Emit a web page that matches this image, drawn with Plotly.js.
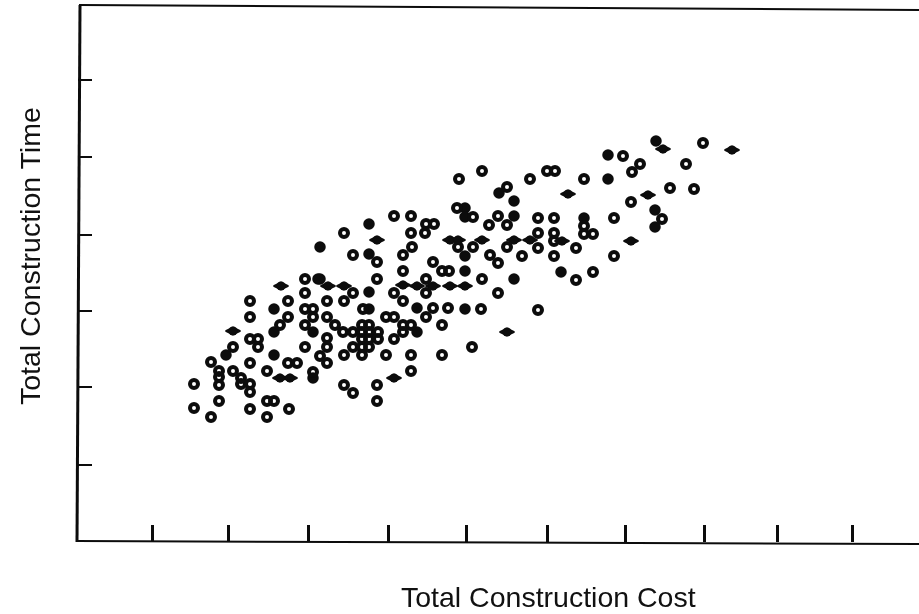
<!DOCTYPE html>
<html><head><meta charset="utf-8">
<script src="https://cdn.plot.ly/plotly-3.0.1.min.js"></script>
<style>html,body{margin:0;padding:0;background:#fff}#chart{filter:blur(0.55px)}</style></head>
<body><div id="chart" style="width:919px;height:614px"></div>
<script>
const xLabel = "Total Construction Cost";
const yLabel = "Total Construction Time";
const xTicks = [152,228,308,388,466,547,625,704,777,852];
const yTicks = [135,213,289,365,443,520];

const openCost = [194,305,305,250,288,305,313,250,288,313,280,305,250,258,258,233,305,320,211,250,288,297,219,233,267,313,219,241,219,241,250,250,219,267,274,194,250,289,211,267,
 394,411,426,434,344,411,425,412,353,403,377,433,403,442,449,377,426,426,353,394,344,327,403,363,433,448,426,386,394,327,335,403,411,442,362,369,343,353,362,369,378,403,327,394,362,369,378,327,353,362,369,344,362,386,411,442,327,411,344,377,353,377,
 482,459,530,547,555,584,507,457,473,538,554,498,489,507,584,538,554,584,593,554,458,473,507,538,576,490,522,554,498,593,482,576,498,481,538,472,
 703,623,640,632,686,670,694,631,614,662,614];
const openTime = [216,321,307,299,299,291,291,283,283,283,275,275,261,261,253,253,253,244,238,237,237,237,229,229,229,228,223,222,215,216,216,208,199,199,199,192,191,191,183,183,
 384,384,376,376,367,367,367,353,345,345,338,338,329,329,329,321,321,307,307,307,299,299,299,291,292,292,283,283,283,283,275,275,275,275,275,275,268,268,268,268,268,268,262,261,261,261,261,253,253,253,253,245,245,245,245,245,237,229,215,215,207,199,
 429,421,421,429,429,421,413,392,383,382,382,384,375,375,374,367,367,366,366,359,353,353,353,352,352,345,344,344,337,328,321,320,307,291,290,253,
 457,444,436,428,436,412,411,398,382,381,344];

const solidCost = [318,274,274,226,274,313,369,320,369,320,369,369,313,417,417,465,465,561,514,465,499,514,465,465,514,584,656,608,608,655,655];
const solidTime = [321,291,268,245,245,222,376,353,346,321,308,291,268,292,268,344,329,328,321,291,407,399,392,383,384,382,459,445,421,390,373];

const flatCost = [281,233,280,290,377,328,344,403,417,433,450,465,394,450,458,482,514,530,562,507,568,732,648,631,663];
const flatTime = [314,269,222,222,360,314,314,315,314,314,314,314,222,360,360,360,360,360,359,268,406,450,405,359,451];

const ink = "#0c0c0c";
const traces = [
 {x:flatCost,y:flatTime,mode:"markers",type:"scatter",hoverinfo:"x+y",
  marker:{symbol:"diamond-wide",size:10.5,color:ink,line:{color:ink,width:1.5}}},
 {x:flatCost,y:flatTime,mode:"markers",type:"scatter",hoverinfo:"x+y",
  marker:{symbol:"circle",size:9,color:ink,line:{width:0}}},
 {x:solidCost,y:solidTime,mode:"markers",type:"scatter",hoverinfo:"x+y",
  marker:{symbol:"circle",size:11.5,color:ink,line:{width:0}}},
 {x:openCost,y:openTime,mode:"markers",type:"scatter",hoverinfo:"x+y",
  marker:{symbol:"circle",size:8,color:"rgba(255,255,255,0)",line:{color:ink,width:4}}}
];
const W = 841, H = 535;
const axisLine = {color:ink,width:2};
const layout = {
 width:919,height:614,showlegend:false,paper_bgcolor:"#fff",plot_bgcolor:"#fff",
 margin:{l:78,r:0,t:7,b:72},
 xaxis:{range:[78,919],tickmode:"array",tickvals:xTicks,ticktext:xTicks.map(()=>""),ticks:"inside",ticklen:17,tickwidth:3,tickcolor:ink,showgrid:false,zeroline:false,showline:false},
 yaxis:{range:[58,593],tickmode:"array",tickvals:yTicks,ticktext:yTicks.map(()=>""),ticks:"inside",ticklen:14,tickwidth:2,tickcolor:ink,showgrid:false,zeroline:false,showline:false},
 shapes:[
  {type:"line",xref:"paper",yref:"paper",x0:2/W,y0:1+2/H,x1:-1/W,y1:0,line:{color:ink,width:3}},
  {type:"line",xref:"paper",yref:"paper",x0:-2/W,y0:1/H,x1:1,y1:-2/H,line:axisLine},
  {type:"line",xref:"paper",yref:"paper",x0:1/W,y0:1+2/H,x1:1,y1:1-3/H,line:axisLine}
 ],
 annotations:[
  {xref:"paper",yref:"paper",x:(548-78)/W,y:-(597-542)/H,text:xLabel,showarrow:false,xanchor:"center",yanchor:"middle",font:{family:"Liberation Sans",size:28.5,color:"#111"}},
  {xref:"paper",yref:"paper",x:(30-78)/W,y:(542-256)/H,text:yLabel,showarrow:false,textangle:-90,xanchor:"center",yanchor:"middle",font:{family:"Liberation Sans",size:28.5,color:"#111"}}
 ]
};
Plotly.newPlot("chart",traces,layout,{displayModeBar:false,staticPlot:true});
</script></body></html>
